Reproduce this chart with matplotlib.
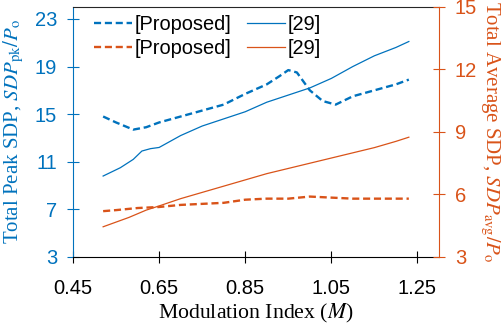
import matplotlib
matplotlib.use("Agg")
import matplotlib.pyplot as plt

plt.rcParams['font.family'] = ['Liberation Sans', 'DejaVu Sans']
plt.rcParams['mathtext.fontset'] = 'stix'

blue = '#0072BD'
orange = '#D95319'

# --- data ---
m_prop_pk = [0.52, 0.55, 0.59, 0.62, 0.65, 0.70, 0.75, 0.80, 0.85, 0.90,
             0.93, 0.95, 0.97, 1.00, 1.03, 1.06, 1.10, 1.15, 1.20, 1.23]
prop_pk = [14.8, 14.3, 13.7, 13.9, 14.3, 14.8, 15.3, 15.8, 16.7, 17.5,
           18.2, 18.7, 18.5, 17.0, 16.1, 15.8, 16.5, 17.0, 17.5, 17.9]

m_ref_pk = [0.52, 0.56, 0.59, 0.61, 0.63, 0.65, 0.70, 0.75, 0.80, 0.85,
            0.90, 0.95, 1.00, 1.05, 1.10, 1.15, 1.20, 1.23]
ref_pk = [9.8, 10.5, 11.2, 11.9, 12.1, 12.2, 13.2, 14.0, 14.6, 15.2,
          16.0, 16.6, 17.2, 18.0, 19.0, 19.9, 20.6, 21.1]

m_avg = [0.52, 0.55, 0.60, 0.65, 0.70, 0.75, 0.80, 0.85, 0.90, 0.95,
         1.00, 1.05, 1.10, 1.15, 1.20, 1.23]
prop_avg = [5.2, 5.25, 5.35, 5.4, 5.5, 5.55, 5.6, 5.75, 5.8, 5.8,
            5.9, 5.85, 5.8, 5.8, 5.8, 5.8]

m_ref_avg = [0.52, 0.58, 0.62, 0.65, 0.70, 0.75, 0.80, 0.85, 0.90, 0.95,
             1.00, 1.05, 1.10, 1.15, 1.20, 1.23]
ref_avg = [4.45, 4.9, 5.25, 5.45, 5.8, 6.1, 6.4, 6.7, 7.0, 7.25,
           7.5, 7.75, 8.0, 8.25, 8.55, 8.75]

x_ticks = [0.45, 0.65, 0.85, 1.05, 1.25]
left_ticks = [3, 7, 11, 15, 19, 23]
right_ticks = [3, 6, 9, 12, 15]

fig = plt.figure(figsize=(5.01, 3.28), dpi=100)
ax = fig.add_axes([0.1457, 0.2165, 0.7305, 0.7622])
ax2 = ax.twinx()

dash = (0, (3, 1.6))
l1, = ax.plot(m_prop_pk, prop_pk, color=blue, lw=1.7, linestyle=dash)
l2, = ax.plot(m_ref_pk, ref_pk, color=blue, lw=0.9)
l3, = ax2.plot(m_avg, prop_avg, color=orange, lw=1.7, linestyle=dash)
l4, = ax2.plot(m_ref_avg, ref_avg, color=orange, lw=0.9)

ax.set_xlim(0.45, 1.30)
ax.set_ylim(3, 24)
ax2.set_ylim(3, 15)
ax.set_xticks(x_ticks)
ax.set_xticklabels([f'{t:.2f}' for t in x_ticks])
ax.set_yticks(left_ticks)
ax2.set_yticks(right_ticks)

ax.tick_params(axis='x', direction='inout', length=8, width=0.8, labelsize=14.5, colors='black', pad=12)
ax.tick_params(axis='y', direction='inout', length=9, width=0.8, labelsize=14.5, colors=blue, pad=7)
ax2.tick_params(axis='y', direction='inout', length=9, width=0.8, labelsize=14.5, colors=orange, pad=7)

ax.spines['left'].set_color(blue)
ax.spines['right'].set_visible(False)
ax.spines['top'].set_color('#262626')
ax2.spines['left'].set_visible(False)
ax2.spines['top'].set_visible(False)
ax2.spines['bottom'].set_visible(False)
ax2.spines['right'].set_color(orange)

serif = 'Liberation Serif'
ax.set_xlabel('Modulation Index ($M$)', fontsize=15.7, family=serif, labelpad=3)
ax.set_ylabel('Total Peak SDP, $SDP_{\\rm pk}/P_{\\rm o}$', fontsize=15,
              family=serif, color=blue, labelpad=6)
ax2.set_ylabel('Total Average SDP, $SDP_{\\rm avg}/P_{\\rm o}$', fontsize=15,
               family=serif, color=orange, rotation=270, labelpad=18)

ax.legend([l1, l3, l2, l4], ['[Proposed]', '[Proposed]', '[29]', '[29]'],
          ncol=2, loc='upper left', frameon=False, fontsize=14.4,
          handlelength=1.9, handletextpad=0.15, columnspacing=0.75,
          labelspacing=0.25, borderpad=0.4, borderaxespad=0,
          bbox_to_anchor=(0.035, 1.0))

fig.savefig('out.png', dpi=100)
